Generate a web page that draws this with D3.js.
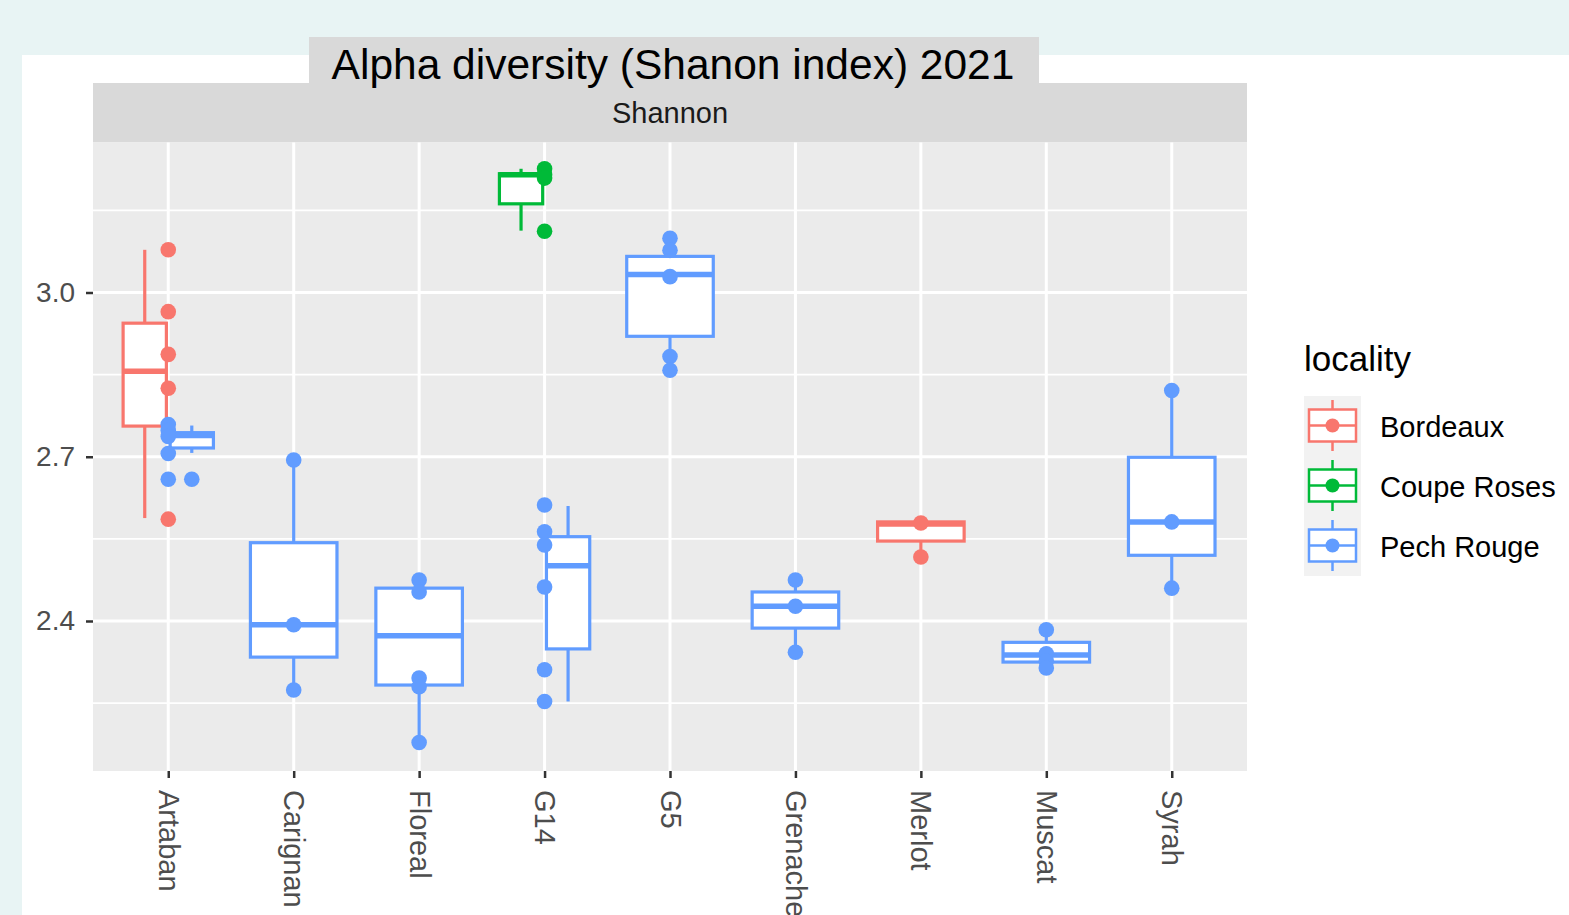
<!DOCTYPE html>
<html>
<head>
<meta charset="utf-8">
<script src="https://cdn.jsdelivr.net/npm/d3@7"></script>
<style>
body { margin: 0; background: #e8f4f4; }
svg { display: block; font-family: "Liberation Sans", Arial, Helvetica, sans-serif; }
</style>
</head>
<body>
<script>
// chart data
var categories = ["Artaban", "Carignan", "Floreal", "G14", "G5", "Grenache", "Merlot", "Muscat", "Syrah"];
var localities = ["Bordeaux", "Coupe Roses", "Pech Rouge"];
var localityColors = ["#F8766D", "#00BA38", "#619CFF"];
var yTicks = [2.4, 2.7, 3.0];
var yMinorTicks = [2.25, 2.55, 2.85, 3.15];
var yDomain = [2.126, 3.274];

// category, locality, lower whisker, q1, median, q3, upper whisker
var boxStats = [
    ["Artaban", "Bordeaux", 2.588, 2.756, 2.856, 2.944, 3.078],
    ["Artaban", "Pech Rouge", 2.707, 2.716, 2.739, 2.744, 2.757],
    ["Carignan", "Pech Rouge", 2.274, 2.334, 2.393, 2.543, 2.694],
    ["Floreal", "Pech Rouge", 2.178, 2.283, 2.373, 2.460, 2.475],
    ["G14", "Coupe Roses", 3.113, 3.162, 3.215, 3.217, 3.226],
    ["G14", "Pech Rouge", 2.253, 2.349, 2.501, 2.554, 2.610],
    ["G5", "Pech Rouge", 2.858, 2.920, 3.033, 3.066, 3.099],
    ["Grenache", "Pech Rouge", 2.343, 2.387, 2.427, 2.453, 2.475],
    ["Merlot", "Bordeaux", 2.517, 2.546, 2.577, 2.581, 2.581],
    ["Muscat", "Pech Rouge", 2.314, 2.325, 2.338, 2.361, 2.384],
    ["Syrah", "Pech Rouge", 2.460, 2.520, 2.581, 2.699, 2.821]
];

// boxplot outliers (drawn at the dodged box position)
var outliers = [
    ["Artaban", "Pech Rouge", 2.659]
];

// samples (drawn at the category centre)
var samplePoints = [
    ["Artaban", "Bordeaux", 3.078], ["Artaban", "Bordeaux", 2.965], ["Artaban", "Bordeaux", 2.887],
    ["Artaban", "Bordeaux", 2.825], ["Artaban", "Bordeaux", 2.586],
    ["Artaban", "Pech Rouge", 2.759], ["Artaban", "Pech Rouge", 2.748], ["Artaban", "Pech Rouge", 2.737],
    ["Artaban", "Pech Rouge", 2.706], ["Artaban", "Pech Rouge", 2.659],
    ["Carignan", "Pech Rouge", 2.694], ["Carignan", "Pech Rouge", 2.393], ["Carignan", "Pech Rouge", 2.274],
    ["Floreal", "Pech Rouge", 2.475], ["Floreal", "Pech Rouge", 2.453], ["Floreal", "Pech Rouge", 2.296],
    ["Floreal", "Pech Rouge", 2.280], ["Floreal", "Pech Rouge", 2.178],
    ["G14", "Coupe Roses", 3.226], ["G14", "Coupe Roses", 3.215], ["G14", "Coupe Roses", 3.209],
    ["G14", "Coupe Roses", 3.112],
    ["G14", "Pech Rouge", 2.612], ["G14", "Pech Rouge", 2.563], ["G14", "Pech Rouge", 2.539],
    ["G14", "Pech Rouge", 2.462], ["G14", "Pech Rouge", 2.311], ["G14", "Pech Rouge", 2.253],
    ["G5", "Pech Rouge", 3.099], ["G5", "Pech Rouge", 3.077], ["G5", "Pech Rouge", 3.029],
    ["G5", "Pech Rouge", 2.883], ["G5", "Pech Rouge", 2.858],
    ["Grenache", "Pech Rouge", 2.475], ["Grenache", "Pech Rouge", 2.427], ["Grenache", "Pech Rouge", 2.343],
    ["Merlot", "Bordeaux", 2.579], ["Merlot", "Bordeaux", 2.517],
    ["Muscat", "Pech Rouge", 2.384], ["Muscat", "Pech Rouge", 2.340], ["Muscat", "Pech Rouge", 2.327],
    ["Muscat", "Pech Rouge", 2.314],
    ["Syrah", "Pech Rouge", 2.821], ["Syrah", "Pech Rouge", 2.581], ["Syrah", "Pech Rouge", 2.460]
];

var W = 1569, H = 915;
var panel = {left: 93, right: 1247, top: 142.5, bottom: 771};

var svg = d3.select("body").append("svg")
    .attr("width", W)
    .attr("height", H);

// white card
svg.append("rect").attr("x", 22).attr("y", 55).attr("width", W - 22).attr("height", H - 55).attr("fill", "#ffffff");

var color = d3.scaleOrdinal().domain(localities).range(localityColors);

var x = d3.scalePoint()
    .domain(categories)
    .range([panel.left, panel.right])
    .padding(0.6);
var step = x.step();

var y = d3.scaleLinear()
    .domain(yDomain)
    .range([panel.bottom, panel.top]);

// strip
svg.append("rect")
    .attr("x", panel.left).attr("y", 83)
    .attr("width", panel.right - panel.left).attr("height", panel.top - 83)
    .attr("fill", "#d9d9d9");
svg.append("text")
    .attr("x", (panel.left + panel.right) / 2).attr("y", 123)
    .attr("text-anchor", "middle")
    .style("font-size", "29px")
    .attr("fill", "#1a1a1a")
    .text("Shannon");

// title box
svg.append("rect").attr("x", 309).attr("y", 37).attr("width", 730).attr("height", 46).attr("fill", "#d9d9d9");
svg.append("text")
    .attr("x", 673).attr("y", 79)
    .attr("text-anchor", "middle")
    .style("font-size", "42.5px")
    .attr("fill", "#000")
    .text("Alpha diversity (Shanon index) 2021");

// panel
svg.append("rect")
    .attr("x", panel.left).attr("y", panel.top)
    .attr("width", panel.right - panel.left).attr("height", panel.bottom - panel.top)
    .attr("fill", "#ebebeb");

var grid = svg.append("g");
grid.selectAll("line.minor")
    .data(yMinorTicks)
    .enter().append("line")
    .attr("x1", panel.left).attr("x2", panel.right)
    .attr("y1", function (d) { return y(d); })
    .attr("y2", function (d) { return y(d); })
    .attr("stroke", "#fff").attr("stroke-width", 1.6);
grid.selectAll("line.major")
    .data(yTicks)
    .enter().append("line")
    .attr("x1", panel.left).attr("x2", panel.right)
    .attr("y1", function (d) { return y(d); })
    .attr("y2", function (d) { return y(d); })
    .attr("stroke", "#fff").attr("stroke-width", 3);
grid.selectAll("line.vert")
    .data(categories)
    .enter().append("line")
    .attr("y1", panel.top).attr("y2", panel.bottom)
    .attr("x1", function (d) { return x(d); })
    .attr("x2", function (d) { return x(d); })
    .attr("stroke", "#fff").attr("stroke-width", 3);

// axes
var xAxis = d3.axisBottom(x).tickSize(7).tickPadding(12);
svg.append("g")
    .attr("class", "x-axis")
    .attr("transform", "translate(0," + panel.bottom + ")")
    .call(xAxis)
    .call(function (g) {
        g.select(".domain").remove();
        g.selectAll(".tick line").attr("stroke", "#333").attr("stroke-width", 2.5);
        g.selectAll(".tick text")
            .attr("fill", "#4d4d4d")
            .style("font-size", "29px")
            .attr("y", 0).attr("dy", 0)
            .attr("transform", "translate(0,19) rotate(90)")
            .attr("text-anchor", "start")
            .attr("dominant-baseline", "central");
    });

var yAxis = d3.axisLeft(y).tickValues(yTicks).tickFormat(d3.format(".1f")).tickSize(7).tickPadding(11);
svg.append("g")
    .attr("class", "y-axis")
    .attr("transform", "translate(" + panel.left + ",0)")
    .call(yAxis)
    .call(function (g) {
        g.select(".domain").remove();
        g.selectAll(".tick line").attr("stroke", "#333").attr("stroke-width", 2.5);
        g.selectAll(".tick text").attr("fill", "#4d4d4d").style("font-size", "28px");
    });

// dodge helpers
function boxPos(cat, loc) {
    var locs = boxStats.filter(function (b) { return b[0] == cat; })
        .map(function (b) { return b[1]; })
        .sort(function (a, b) { return localities.indexOf(a) - localities.indexOf(b); });
    var n = locs.length;
    var slot = 0.75 / n;
    var i = locs.indexOf(loc);
    var offset = -0.375 + slot * (i + 0.5);
    return {cx: x(cat) + offset * step, w: slot * 0.92 * step};
}

var boxes = svg.append("g").selectAll("g.box")
    .data(boxStats)
    .enter().append("g")
    .attr("class", "box");

boxes.each(function (d) {
    var g = d3.select(this);
    var p = boxPos(d[0], d[1]);
    var c = color(d[1]);
    g.append("line")
        .attr("x1", p.cx).attr("x2", p.cx)
        .attr("y1", y(d[6])).attr("y2", y(d[5]))
        .attr("stroke", c).attr("stroke-width", 3.2);
    g.append("line")
        .attr("x1", p.cx).attr("x2", p.cx)
        .attr("y1", y(d[3])).attr("y2", y(d[2]))
        .attr("stroke", c).attr("stroke-width", 3.2);
    g.append("rect")
        .attr("x", p.cx - p.w / 2).attr("width", p.w)
        .attr("y", y(d[5])).attr("height", y(d[3]) - y(d[5]))
        .attr("fill", "#fff").attr("stroke", c).attr("stroke-width", 3.2);
    g.append("line")
        .attr("x1", p.cx - p.w / 2).attr("x2", p.cx + p.w / 2)
        .attr("y1", y(d[4])).attr("y2", y(d[4]))
        .attr("stroke", c).attr("stroke-width", 5.5);
});

svg.append("g").selectAll("circle.outlier")
    .data(outliers)
    .enter().append("circle")
    .attr("cx", function (d) { return boxPos(d[0], d[1]).cx; })
    .attr("cy", function (d) { return y(d[2]); })
    .attr("r", 7.8)
    .attr("fill", function (d) { return color(d[1]); });

svg.append("g").selectAll("circle.pt")
    .data(samplePoints)
    .enter().append("circle")
    .attr("cx", function (d) { return x(d[0]); })
    .attr("cy", function (d) { return y(d[2]); })
    .attr("r", 7.8)
    .attr("fill", function (d) { return color(d[1]); });

// legend
var legend = svg.append("g").attr("transform", "translate(1304,0)");
legend.append("text")
    .attr("x", 0).attr("y", 371)
    .style("font-size", "35px")
    .attr("fill", "#000")
    .text("locality");
legend.append("rect")
    .attr("x", 0).attr("y", 396).attr("width", 57).attr("height", 180)
    .attr("fill", "#f2f2f2");

var keys = legend.selectAll("g.key")
    .data(localities)
    .enter().append("g")
    .attr("class", "key")
    .attr("transform", function (d, i) { return "translate(0," + (396 + i * 60) + ")"; });

keys.append("line")
    .attr("x1", 28.5).attr("x2", 28.5).attr("y1", 4).attr("y2", 55)
    .attr("stroke", function (d) { return color(d); }).attr("stroke-width", 2.5);
keys.append("rect")
    .attr("x", 5).attr("y", 13.5).attr("width", 47).attr("height", 32)
    .attr("fill", "#fff")
    .attr("stroke", function (d) { return color(d); }).attr("stroke-width", 2.5);
keys.append("line")
    .attr("x1", 5).attr("x2", 52).attr("y1", 29.5).attr("y2", 29.5)
    .attr("stroke", function (d) { return color(d); }).attr("stroke-width", 2.5);
keys.append("circle")
    .attr("cx", 28.5).attr("cy", 29.5).attr("r", 7)
    .attr("fill", function (d) { return color(d); });
keys.append("text")
    .attr("x", 76).attr("y", 41)
    .style("font-size", "29px")
    .attr("fill", "#000")
    .text(function (d) { return d; });
</script>
</body>
</html>
